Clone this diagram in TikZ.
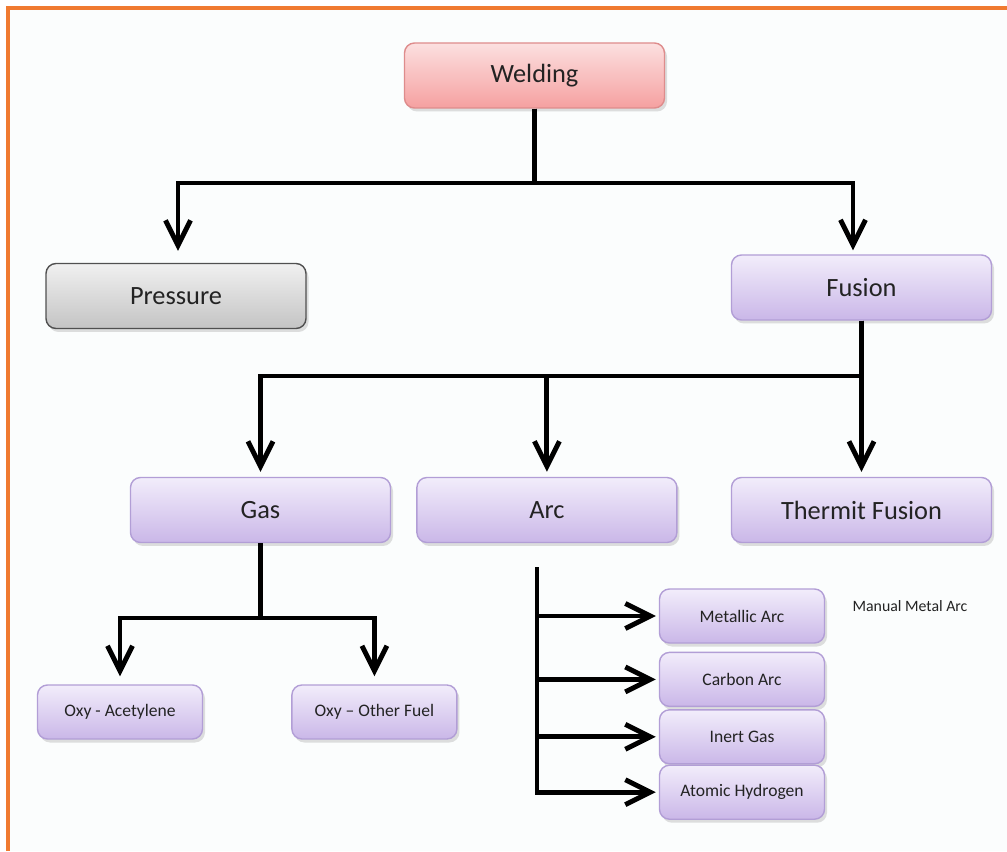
\documentclass[tikz,border=0pt]{standalone}
\usepackage{fontspec}
\setmainfont{Carlito}
\usepackage{tikz}
\usetikzlibrary{positioning,arrows.meta,shadows}
\definecolor{borderorange}{RGB}{240,122,48}
\definecolor{paper}{RGB}{251,253,253}
\definecolor{pinktop}{RGB}{252,224,224}
\definecolor{pinkbot}{RGB}{245,160,160}
\definecolor{pinkline}{RGB}{222,140,140}
\definecolor{lilactop}{RGB}{242,237,251}
\definecolor{lilacbot}{RGB}{202,183,232}
\definecolor{lilacline}{RGB}{178,158,214}
\definecolor{greytop}{RGB}{240,240,240}
\definecolor{greybot}{RGB}{196,196,196}
\definecolor{greyline}{RGB}{80,80,80}
\definecolor{labeltext}{RGB}{35,35,35}

\begin{document}
\begin{tikzpicture}[
		>={Straight Barb[length=0.5cm,width=0.5cm]},
		every node/.style={text=labeltext},
		box/.style={draw, rounded corners=0.2cm, line width=0.8pt, inner sep=0pt,
			drop shadow={shadow xshift=0.05cm, shadow yshift=-0.07cm, opacity=0.25}},
		big/.style={box, minimum width=5.2cm, minimum height=1.3cm, font=\fontsize{15}{18}\selectfont},
		small/.style={box, minimum width=3.3cm, minimum height=1.08cm, font=\fontsize{10}{12}\selectfont},
		pink/.style={top color=pinktop, bottom color=pinkbot, draw=pinkline},
		lilac/.style={top color=lilactop, bottom color=lilacbot, draw=lilacline},
		grey/.style={top color=greytop, bottom color=greybot, draw=greyline},
		link/.style={->, line width=2.8pt, line join=miter}
	]
	\useasboundingbox (0,0) rectangle (20.14,17.02);
	\fill[paper] (0.19,0) rectangle (20.14,16.83);
	\draw[borderorange, line width=0.07cm] (0.16,0) -- (0.16,16.86) -- (20.14,16.86);

	\node(welding)[big, pink] at (10.69,15.51) {Welding};
	\node(pressure)[big, grey] at (3.52,11.10) {Pressure};
	\node(fusion)[big, lilac] at (17.23,11.27) {Fusion};

	\node(gas)[big, lilac] at (5.21,6.82) {Gas};
	\node(arc)[big, lilac, right=0.5cm of gas] {Arc};
	\node(thermit)[big, lilac] at (fusion |- gas) {Thermit Fusion};

	\node(oxyacet)[small, lilac] at (2.40,2.78) {Oxy - Acetylene};
	\node(oxyother)[small, lilac, right=1.76cm of oxyacet] {Oxy – Other Fuel};

	\node(metallic)[small, lilac] at (14.84,4.70) {Metallic Arc};
	\node(carbon)[small, lilac, below=0.16cm of metallic] {Carbon Arc};
	\node(inert)[small, lilac, below=0.04cm of carbon] {Inert Gas};
	\node(atomic)[small, lilac, below=0cm of inert] {Atomic Hydrogen};
	\node(manual)[font=\fontsize{9}{11}\selectfont] at (18.20,4.90) {Manual Metal Arc};

	\coordinate (topbus) at (0,13.36);
	\coordinate (midbus) at (0,9.50);
	\coordinate (gasbus) at (0,4.66);
	\coordinate (spine) at (10.74,5.68);

	\draw[link] (welding.south) -- (welding.south |- topbus) -| ([xshift=0.04cm,yshift=0.24cm]pressure.north);
	\draw[link] (welding.south) -- (welding.south |- topbus) -| ([xshift=-0.17cm,yshift=0.08cm]fusion.north);

	\draw[link] (fusion.south) -- (fusion.south |- midbus) -| ([yshift=0.1cm]gas.north);
	\draw[link] (fusion.south) -- (fusion.south |- midbus) -| ([yshift=0.1cm]arc.north);
	\draw[link] (fusion.south) -- ([yshift=0.1cm]thermit.north);

	\draw[link] (gas.south) -- (gas.south |- gasbus) -| ([yshift=0.16cm]oxyacet.north);
	\draw[link] (gas.south) -- (gas.south |- gasbus) -| ([yshift=0.16cm]oxyother.north);

	\draw[link] (spine) |- ([xshift=-0.06cm]atomic.west);
	\draw[link] (spine |- metallic.west) -- ([xshift=-0.06cm]metallic.west);
	\draw[link] (spine |- carbon.west) -- ([xshift=-0.06cm]carbon.west);
	\draw[link] (spine |- inert.west) -- ([xshift=-0.06cm]inert.west);
\end{tikzpicture}
\end{document}
